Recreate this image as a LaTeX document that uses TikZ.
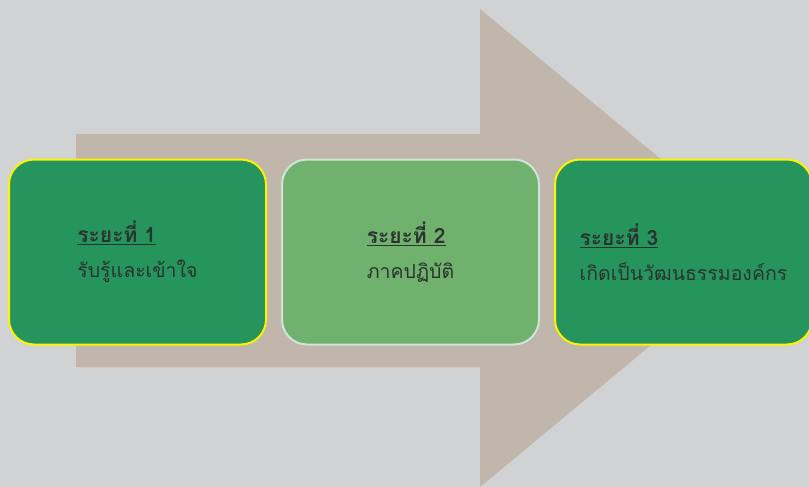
\documentclass[tikz,border=0pt]{standalone}
\usepackage{fontspec}
\setmainfont{Liberation Sans}
\newfontfamily\thaifont[Script=Thai]{Loma}
\usetikzlibrary{positioning}
\definecolor{bggray}{HTML}{D1D2D4}
\definecolor{arrowtan}{HTML}{C0B6AB}
\definecolor{darkgreen}{HTML}{25955D}
\definecolor{lightgreen}{HTML}{70B16E}
\definecolor{paleedge}{HTML}{CFE5D8}
\definecolor{textgray}{HTML}{2B332E}

\begin{document}
\begin{tikzpicture}[x=1pt, y=-1pt, node distance=14pt]
        \tikzset{stage/.style={rectangle, draw=yellow, line width=2pt, rounded corners=25pt, minimum width=257pt, minimum height=185pt, fill=darkgreen, align=left, text=textgray, font=\thaifont\fontsize{19.5}{35}\selectfont}}
        \fill[bggray] (0,0) rectangle (809,487);
        \useasboundingbox (0,0) rectangle (809,487);
        % big arrow behind the stages
        \fill[arrowtan] (76,134) -- (480,134) -- (480,9) -- (768,248) -- (480,487) -- (480,367) -- (76,367) -- cycle;
        \node[stage] (phase1) at (137.5,252) {\underline{\textbf{\fontsize{21}{35}\selectfont ระยะที่ 1}}\\รับรู้และเข้าใจ};
        \node[stage, right=of phase1, fill=lightgreen, draw=paleedge] (phase2) {\underline{\textbf{\fontsize{21}{35}\selectfont ระยะที่ 2}}\\ภาคปฏิบัติ};
        \node[stage, right=of phase2] (phase3) {\underline{\textbf{\fontsize{21}{35}\selectfont ระยะที่ 3}}\\เกิดเป็นวัฒนธรรมองค์กร};
\end{tikzpicture}
\end{document}
